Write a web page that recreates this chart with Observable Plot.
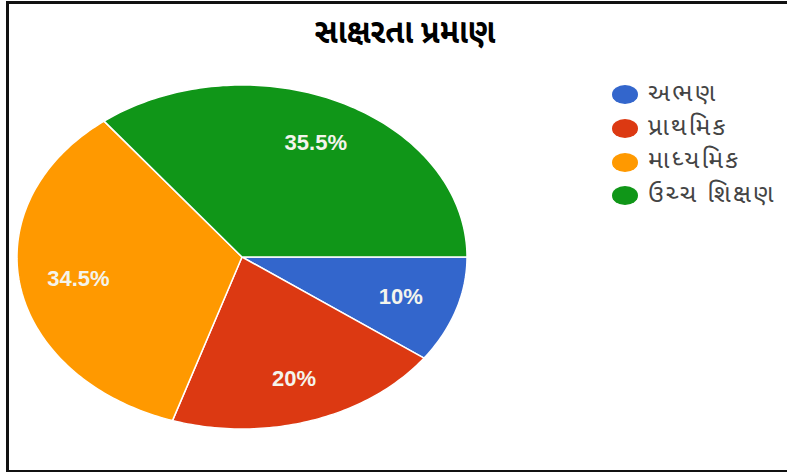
<!DOCTYPE html>
<html>
<head>
<meta charset="utf-8">
<script src="https://cdn.jsdelivr.net/npm/d3@7"></script>
<script src="https://cdn.jsdelivr.net/npm/@observablehq/plot@0.6"></script>
<style>
  html, body { margin: 0; padding: 0; background: #fff; width: 787px; height: 472px; overflow: hidden; position: relative; }
  #frame { position: absolute; left: 6px; top: 1px; width: 820px; height: 466px; border: 3px solid #111; box-sizing: content-box; }
  #title { position: absolute; left: 255px; width: 300px; top: 13px; text-align: center; font-family: "Noto Sans Gujarati", "Lohit Gujarati", "Noto Sans", sans-serif; font-weight: bold; font-size: 34px; color: #000; transform: scaleX(0.9); transform-origin: 150px 0; }
  #chart { position: absolute; left: 0; top: 0; }
  #legend { position: absolute; left: 612px; top: 78px; font-family: "Noto Sans Gujarati", "Lohit Gujarati", "Noto Sans", sans-serif; font-size: 25px; letter-spacing: 2.2px; color: #444; }
  .row { display: flex; align-items: center; height: 33.7px; }
  .sw { width: 26px; height: 19px; border-radius: 50%; margin-right: 10px; flex: none; }
</style>
</head>
<body>
<div id="frame"></div>
<div id="chart"></div>
<div id="title"></div>
<div id="legend"></div>
<script>
const title = "સાક્ષરતા પ્રમાણ";
const categories = ["અભણ", "પ્રાથમિક", "માધ્યમિક", "ઉચ્ચ શિક્ષણ"];
const values = [10, 20, 34.5, 35.5];
const labels = ["10%", "20%", "34.5%", "35.5%"];
const colors = ["#3366cc", "#dc3912", "#ff9900", "#109618"];

document.getElementById("title").textContent = title;

const total = d3.sum(values);
const arcs = [];
const labelPts = [];
let acc = 0;
values.forEach((v, i) => {
  const a0 = acc / total * 2 * Math.PI;
  acc += v;
  const a1 = acc / total * 2 * Math.PI;
  const n = Math.max(4, Math.ceil((a1 - a0) / (2 * Math.PI) * 360));
  for (let k = 0; k <= n; k++) {
    const a = a0 + (a1 - a0) * k / n;
    arcs.push({cat: categories[i], x1: Math.cos(a), y1: Math.sin(a), x2: 0, y2: 0});
  }
  const m = (a0 + a1) / 2;
  labelPts.push({cat: categories[i], text: labels[i], x: 0.74 * Math.cos(m), y: 0.74 * Math.sin(m)});
});

const plot = Plot.plot({
  width: 787,
  height: 472,
  margin: 0,
  x: {domain: [-1, 1], range: [17, 467], axis: null},
  y: {domain: [-1, 1], range: [85, 429], axis: null},
  color: {domain: categories, range: colors},
  style: {background: "transparent"},
  marks: [
    Plot.area(arcs, {x1: "x1", y1: "y1", x2: "x2", y2: "y2", z: "cat", fill: "cat", stroke: "white", strokeWidth: 1.5, curve: "linear"}),
    Plot.text(labelPts, {x: "x", y: "y", text: "text", fill: "#f4f4ec", fontSize: 22, fontWeight: "bold", fontFamily: "Liberation Sans, Arial, sans-serif", style: "letter-spacing: 2px"})
  ]
});
document.getElementById("chart").appendChild(plot);

const legend = d3.select("#legend");
categories.forEach((c, i) => {
  const row = legend.append("div").attr("class", "row");
  row.append("div").attr("class", "sw").style("background", colors[i]);
  row.append("span").text(c);
});
</script>
</body>
</html>
